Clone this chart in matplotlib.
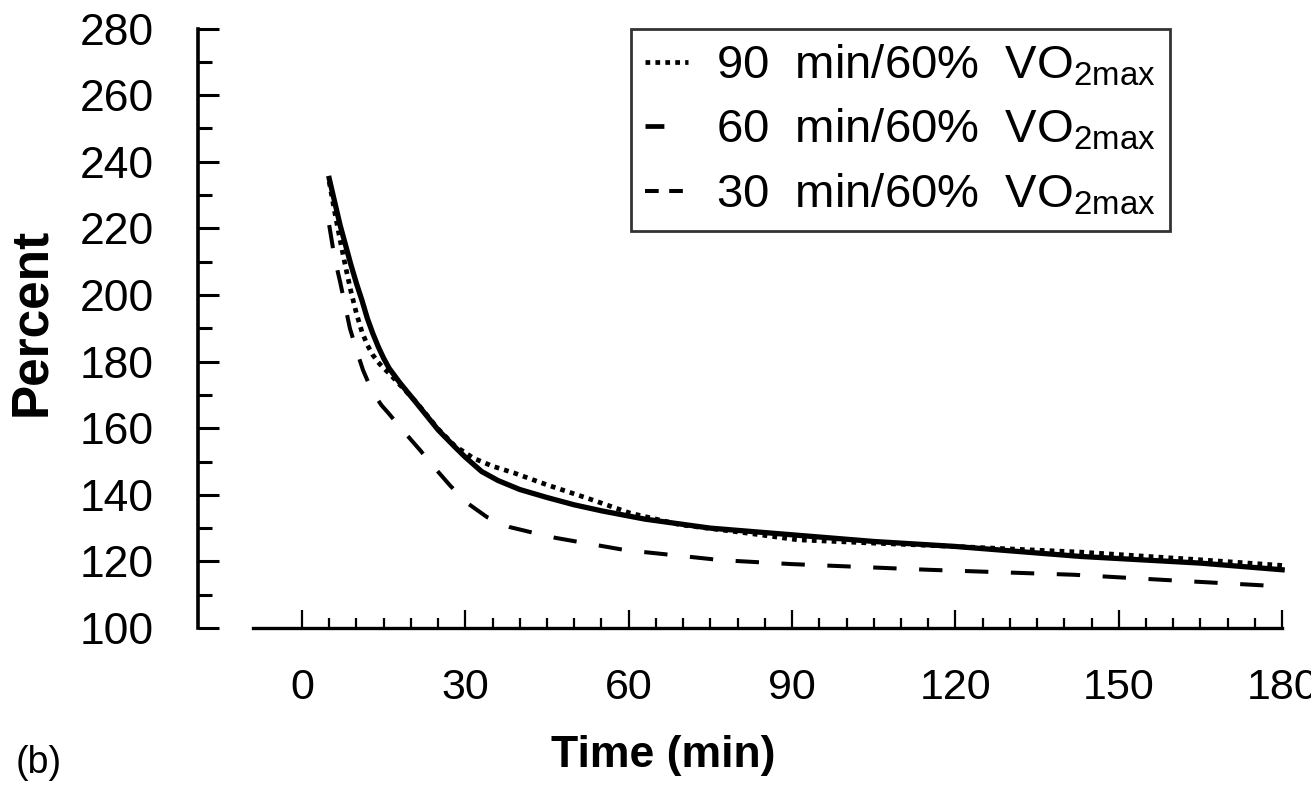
import matplotlib
matplotlib.use('Agg')
import matplotlib.pyplot as plt
from matplotlib.lines import Line2D
from matplotlib.ticker import MultipleLocator, FixedLocator

plt.rcParams['font.family'] = ['Liberation Sans', 'DejaVu Sans']
plt.rcParams['mathtext.default'] = 'regular'

# 90 min / 60% VO2max (dotted)
t90 = [5, 6, 7, 8, 9, 10, 11, 12, 13, 14, 15, 16, 18, 21, 25, 28, 31.5, 35,
       38.9, 45, 52.4, 60.3, 69.5, 81.8, 91, 105, 120, 143, 165, 180]
v90 = [234, 225, 216.5, 208.5, 201, 194.5, 189, 185, 182, 179.8, 178, 176.5,
       173, 167.8, 159.8, 154.8, 151, 148.6, 146.6, 143, 139, 134.5, 131,
       128.5, 126.5, 125.5, 124.5, 122.8, 120.5, 118.8]

# 60 min / 60% VO2max (solid)
t60 = [5, 6, 7, 8, 9, 10, 11, 12, 13, 14, 15, 16, 18, 21, 25, 28, 30, 33, 36,
       40, 45, 50, 55, 63, 75, 90, 105, 120, 143, 165, 180]
v60 = [235, 228, 221, 215, 209, 203.5, 198.5, 193, 188.5, 184.5, 181, 178,
       173.6, 167.6, 159.5, 154.5, 151.3, 147, 144.3, 141.6, 139.2, 137,
       135.2, 132.7, 130, 128, 126, 124.5, 121.5, 119.5, 117.5]

# 30 min / 60% VO2max (dashed)
t30 = [5, 6, 7, 7.9, 8.8, 10.1, 11.2, 12.3, 13.4, 14.6, 15.9, 18.6, 21.7,
       24.1, 27.2, 30.3, 34, 38.2, 42.5, 46.5, 51, 59.4, 68.2, 76.9, 90, 115,
       141.8, 160, 180]
v30 = [221, 211, 204, 197, 190, 183, 177.5, 173.3, 169.8, 166.9, 164.5, 159.2,
       153.4, 148.6, 142.8, 137.6, 133.3, 130.3, 128.6, 127.1, 125.8, 123.4,
       121.9, 120.4, 119.2, 117.5, 116, 114.3, 112.5]

labels = [r'90  min/60%  VO$_{2max}$', r'60  min/60%  VO$_{2max}$',
          r'30  min/60%  VO$_{2max}$']

fig = plt.figure(figsize=(13.11, 7.94), dpi=100)
ax = fig.add_axes([0.151, 0.209, 0.827, 0.755])

ax.plot(t90, v90, color='black', lw=3.4, dashes=(1, 1.1), clip_on=False)
ax.plot(t60, v60, color='black', lw=3.8, clip_on=False)
ax.plot(t30, v30, color='black', lw=2.9, dashes=(5.8, 5.6), clip_on=False)

ax.set_xlim(-19.1, 180)
ax.set_ylim(100, 280)

for s in ['top', 'right']:
    ax.spines[s].set_visible(False)
ax.spines['left'].set_linewidth(2.6)
ax.spines['bottom'].set_linewidth(2.4)
ax.spines['bottom'].set_bounds(-9, 180)

ax.xaxis.set_major_locator(FixedLocator(range(0, 181, 30)))
ax.xaxis.set_minor_locator(FixedLocator(range(0, 181, 5)))
ax.yaxis.set_major_locator(MultipleLocator(20))
ax.yaxis.set_minor_locator(MultipleLocator(10))

ax.tick_params(axis='x', which='major', direction='in', length=13, width=1.6,
               pad=29, labelsize=31)
ax.tick_params(axis='x', which='minor', direction='in', length=7.5, width=1.6)
ax.tick_params(axis='y', which='major', direction='in', length=15, width=2.2,
               pad=32, labelsize=32)
ax.tick_params(axis='y', which='minor', direction='in', length=10, width=2.2)
for tk in ax.xaxis.get_major_ticks() + ax.xaxis.get_minor_ticks():
    tk.tick1line.set_clip_on(False)

ax.set_ylabel('Percent', fontsize=37, fontweight='bold')
ax.yaxis.set_label_coords(-0.131, 0.511)
ax.set_xlabel('Time (min)', fontsize=32, fontweight='bold')
ax.xaxis.set_label_coords(0.429, -0.178)
fig.text(0.012, 0.039, '(b)', fontsize=27, va='center')

handles = [Line2D([], [], color='black', lw=3.4, dashes=(1, 1.1)),
           Line2D([], [], color='black', lw=3.4, dashes=(4, 20)),
           Line2D([], [], color='black', lw=2.9, dashes=(3.4, 2.6))]
leg = ax.legend(handles, labels, loc='upper right', bbox_to_anchor=(0.897, 1.0),
                borderaxespad=0, fontsize=34, handlelength=0.9,
                handletextpad=0.6, labelspacing=0.4, borderpad=0.3,
                fancybox=False, frameon=True)
leg.get_frame().set_edgecolor('black')
leg.get_frame().set_linewidth(2)

fig.savefig('out.png', dpi=100)
